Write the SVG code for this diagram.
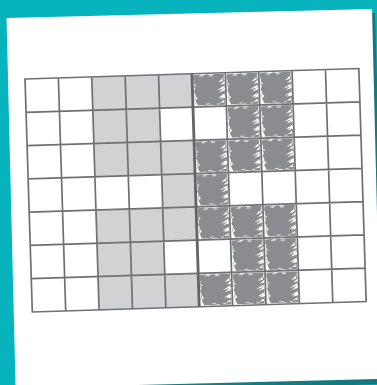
<svg xmlns="http://www.w3.org/2000/svg" xmlns:xlink="http://www.w3.org/1999/xlink" width="377" height="385" viewBox="0 0 377 385">
  <style>
    .gray{fill:#d1d2d4}
    .grid{fill:none;stroke:#707073;stroke-width:1.7}
    .thick{fill:none;stroke:#646467;stroke-width:2.8}
  </style>
  <defs>
    <linearGradient id="shadowGrad" x1="0" y1="0" x2="1" y2="0">
      <stop offset="0" stop-color="#1b8f94"/>
      <stop offset="0.4" stop-color="#127d83"/>
      <stop offset="1" stop-color="#117a80"/>
    </linearGradient>
    <g id="scr">
      <path fill="#8b8c8f" d="M1.5,1.5 L8,1.2 L10,2.3 L15,1 L18,2 L23,1 L32,1.2 L31.5,5 L32.6,8 L28,12 L32.6,11 L32,15 L26,19.5 L32.6,17.5 L32,22 L27,26 L32.6,25 L32,32 L22,32.3 L19,31.5 L14,32.2 L8,31.8 L5,32 L3,28 L2,24 L3,21 L1.5,18 L2.5,15 L1.5,12 L2,8 L1,5 Z"/>
      <path fill="#ffffff" d="M31,5 L26,9.5 L31,8 Z M31.5,13 L24,17.5 L31.5,15.5 Z M31.5,21 L25,25 L31.5,23.5 Z M31.5,27 L27,30 L31.5,29.5 Z M2.5,22 L5,24.5 L3,27 Z M2,10 L4,12 L2.5,13 Z"/>
      <path fill="none" stroke="#ffffff" stroke-width="0.7" d="M7,2.6 L11,2.8 M17,2.9 L21,2.7 M13,30.8 L17,30.6 M24,31 L27,30.9"/>
    </g>
  </defs>

  <g id="background">
    <rect x="0" y="0" width="377" height="385" fill="#07b3bd"/>
    <polygon points="9,23 375,13 386,384 19,395" fill="url(#shadowGrad)"/>
  </g>

  <g id="paper">
    <polygon points="6.5,18 372,9 381,379 15.6,388" fill="#ffffff"/>
  </g>

  <g id="grid" transform="translate(25,79) rotate(-1.8)">
    <g id="shaded-cells">
      <rect class="gray" x="66.8" y="0" width="100.2" height="33.3"/>
      <rect class="gray" x="66.8" y="33.3" width="66.8" height="33.3"/>
      <rect class="gray" x="66.8" y="66.6" width="100.2" height="33.3"/>
      <rect class="gray" x="133.6" y="99.9" width="33.4" height="33.3"/>
      <rect class="gray" x="66.8" y="133.2" width="100.2" height="33.3"/>
      <rect class="gray" x="66.8" y="166.5" width="66.8" height="33.3"/>
      <rect class="gray" x="66.8" y="199.8" width="100.2" height="33.3"/>
    </g>
    <g id="scribbled-cells">
      <use href="#scr" x="167" y="0"/>
      <use href="#scr" x="200.4" y="0"/>
      <use href="#scr" x="233.8" y="0"/>
      <use href="#scr" x="200.4" y="33.3"/>
      <use href="#scr" x="233.8" y="33.3"/>
      <use href="#scr" x="167" y="66.6"/>
      <use href="#scr" x="200.4" y="66.6"/>
      <use href="#scr" x="233.8" y="66.6"/>
      <use href="#scr" x="167" y="99.9"/>
      <use href="#scr" x="167" y="133.2"/>
      <use href="#scr" x="200.4" y="133.2"/>
      <use href="#scr" x="233.8" y="133.2"/>
      <use href="#scr" x="200.4" y="166.5"/>
      <use href="#scr" x="233.8" y="166.5"/>
      <use href="#scr" x="167" y="199.8"/>
      <use href="#scr" x="200.4" y="199.8"/>
      <use href="#scr" x="233.8" y="199.8"/>
    </g>
    <g id="grid-lines">
      <path class="grid" d="M0,0 H334 V233.1 H0 Z
        M33.4,0 V233.1 M66.8,0 V233.1 M100.2,0 V233.1 M133.6,0 V233.1
        M200.4,0 V233.1 M233.8,0 V233.1 M267.2,0 V233.1 M300.6,0 V233.1
        M0,33.3 H334 M0,66.6 H334 M0,99.9 H334 M0,133.2 H334 M0,166.5 H334 M0,199.8 H334"/>
      <path class="thick" d="M167,0 V233.1"/>
    </g>
  </g>
</svg>
